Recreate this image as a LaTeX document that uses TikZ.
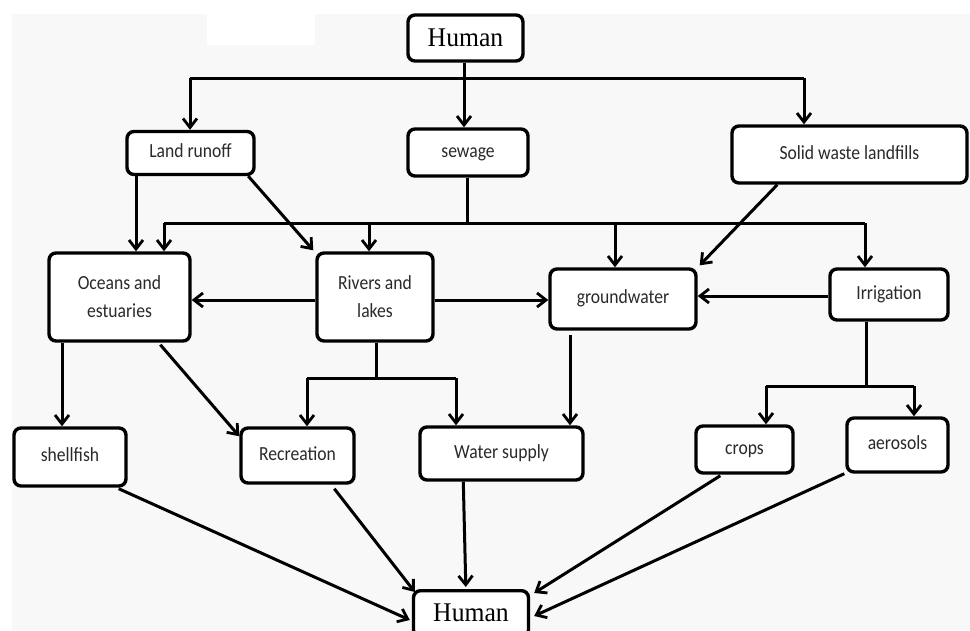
\documentclass[tikz,border=0pt]{standalone}
\usepackage{fontspec}
\setmainfont{Carlito}[FakeStretch=0.88]
\newfontfamily\humanfont{Liberation Serif}[FakeStretch=0.95]
\usetikzlibrary{arrows.meta,calc}
\definecolor{bggray}{HTML}{F8F8F8}
\definecolor{txt}{HTML}{2A2A2A}
\begin{document}
\begin{tikzpicture}[x=1pt,y=-1pt,
  box/.style={draw=black,line width=3.4pt,rounded corners=7pt,fill=white,
    inner sep=0pt,text=txt,font=\fontsize{20}{23}\selectfont,align=center},
  one/.style={text height=13pt,text depth=3.5pt},
  humanbox/.style={box,font=\humanfont\fontsize{27}{30}\selectfont,text=black,
    text height=18pt,text depth=2pt},
  conn/.style={draw=black,line width=3pt},
  arr/.style={conn,-{Straight Barb[length=9pt,width=14pt,line width=2.8pt]}}]
\useasboundingbox (0,0) rectangle (970,630);
\fill[white] (0,0) rectangle (970,630);
\fill[bggray] (12,14) rectangle (970,630);
\fill[white] (207,14) rectangle (315,45);

% nodes
\node[humanbox,minimum width=115pt,minimum height=46pt] (htop) at (465.5,38) {Human};
\node[box,one,minimum width=127pt,minimum height=43pt] (land) at (190.5,153) {Land runoff};
\node[box,one,minimum width=120pt,minimum height=47pt] (sewage) at (468,152.5) {sewage};
\node[box,one,minimum width=235pt,minimum height=57pt] (solid) at (849.5,154.5) {Solid waste landfills};
\node[box,minimum width=141pt,minimum height=88pt,font=\fontsize{20}{28}\selectfont] (oceans) at (119.5,297) {Oceans and\\estuaries};
\node[box,minimum width=116pt,minimum height=88pt,font=\fontsize{20}{28}\selectfont] (rivers) at (375,297) {Rivers and\\lakes};
\node[box,one,minimum width=146pt,minimum height=60pt] (ground) at (623,299) {groundwater};
\node[box,one,minimum width=118pt,minimum height=51pt] (irrig) at (889,294.5) {Irrigation};
\node[box,one,minimum width=112pt,minimum height=58pt] (shell) at (70,457) {shellfish};
\node[box,one,minimum width=113pt,minimum height=55pt] (recre) at (297.5,455.5) {Recreation};
\node[box,one,minimum width=163pt,minimum height=53pt] (water) at (501.5,453.5) {Water supply};
\node[box,one,minimum width=97pt,minimum height=47pt] (crops) at (744.5,449.5) {crops};
\node[box,one,minimum width=101pt,minimum height=54pt] (aero) at (897.5,445) {aerosols};
\node[humanbox,minimum width=115pt,minimum height=46pt,anchor=north] (hbot) at (471,589) {Human};

% helper coordinates
\coordinate (t1) at (190,78);
\coordinate (t2) at (804,78);
\coordinate (hx) at (464,78);
\coordinate (lr) at (136,0);
\coordinate (s1) at (467,223);
\coordinate (b1) at (164,223);
\coordinate (b2) at (369,223);
\coordinate (b3) at (615,223);
\coordinate (b4) at (865,223);
\coordinate (oc) at (62,0);
\coordinate (r1) at (376,378);
\coordinate (r2) at (307,378);
\coordinate (r3) at (456,378);
\coordinate (gw) at (570,335);
\coordinate (i1) at (866,386);
\coordinate (i2) at (766,386);
\coordinate (i3) at (914,386);

% top fan
\draw[arr] (htop.south -| hx) -- (sewage.north -| hx);
\draw[conn] (t1) -- (t2);
\draw[arr] (t1) -- (t1 |- land.north);
\draw[arr] (t2) -- (t2 |- solid.north);

% second level
\draw[arr] (land.south -| lr) -- (oceans.north -| lr);
\draw[arr] ($(land.south west)+(123,0)$) -- ($(rivers.north west)+(-2,-1)$);
\draw[conn] (sewage.south -| s1) -- (s1);
\draw[conn] (b1) -- (b4);
\draw[arr] (b1) -- (b1 |- oceans.north);
\draw[arr] (b2) -- (b2 |- rivers.north);
\draw[arr] (b3) -- (b3 |- ground.north);
\draw[arr] (b4) -- (b4 |- irrig.north);
\draw[arr] ($(solid.south west)+(47,0)$) -- ($(ground.north east)+(2,-2)$);

% horizontal arrows
\draw[arr] ([yshift=-3pt]rivers.west) -- ([yshift=-3pt]rivers.west -| oceans.east);
\draw[arr] ([yshift=-3pt]rivers.east) -- ([yshift=-3pt]rivers.east -| ground.west);
\draw[arr] ([yshift=-1.5pt]irrig.west) -- ([yshift=-1.5pt]irrig.west -| ground.east);

% third level
\draw[arr] (oceans.south -| oc) -- (shell.north -| oc);
\draw[arr] ($(oceans.south west)+(113,2)$) -- ($(recre.north west)+(0,10)$);
\draw[conn] (rivers.south -| r1) -- (r1);
\draw[conn] (r2) -- (r3);
\draw[arr] (r2) -- (r2 |- recre.north);
\draw[arr] (r3) -- (r3 |- water.north);
\draw[arr] (gw) -- (gw |- water.north);
\draw[conn] (irrig.south -| i1) -- (i1);
\draw[conn] (i2) -- (i3);
\draw[arr] (i2) -- (i2 |- crops.north);
\draw[arr] (i3) -- (i3 |- aero.north);

% to bottom human
\draw[arr] ($(shell.south east)+(-9,1)$) -- ($(hbot.north west)+(-2,31)$);
\draw[arr] ($(recre.south west)+(95,4)$) -- ($(hbot.north west)+(3,3)$);
\draw[arr] ($(water.south west)+(45,0)$) -- ($(hbot.north west)+(54,-2)$);
\draw[arr] ($(crops.south west)+(26,1)$) -- ($(hbot.north east)+(4,4)$);
\draw[arr] ($(aero.south west)+(-1,0)$) -- ($(hbot.north east)+(4,27)$);
\end{tikzpicture}
\end{document}
